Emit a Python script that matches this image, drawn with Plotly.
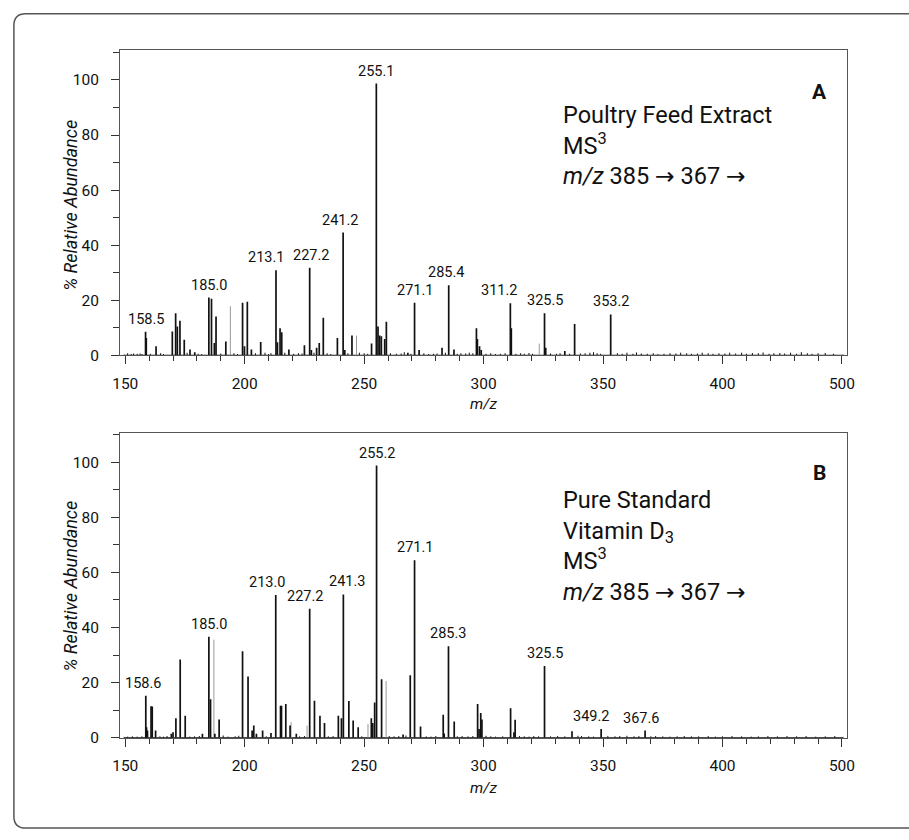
import plotly.graph_objects as go

# ---------------------------------------------------------------
# Panel A: poultry feed extract, MS3 of m/z 385 -> 367
# ---------------------------------------------------------------
a_label_mz = [158.5, 185.0, 213.1, 227.2, 241.2, 255.1, 271.1, 285.4, 311.2, 325.5, 353.2]
a_label_int = [8.6, 21.0, 30.9, 31.8, 44.6, 98.7, 19.1, 25.5, 18.9, 15.3, 14.9]
a_label_text = ["158.5", "185.0", "213.1", "227.2", "241.2", "255.1", "271.1", "285.4", "311.2", "325.5", "353.2"]

a_peak_mz = [158.8, 162.9, 169.7, 171.1, 171.8, 172.9, 174.7, 177.1, 179.1, 186.1, 187.3,
             188.0, 192.1, 199.1, 199.9, 201.1, 202.8, 206.7, 213.7, 214.8, 215.5, 218.5,
             225.0, 227.9, 230.1, 231.2, 232.9, 238.8, 241.9, 244.9, 253.1, 255.8, 256.5,
             257.2, 258.6, 259.3, 268.3, 273.0, 282.6, 287.6, 297.0, 297.4, 298.3, 299.0,
             311.6, 326.0, 334.0, 338.1]
a_peak_int = [6.3, 3.3, 8.7, 15.3, 10.5, 12.6, 5.7, 2.2, 1.2, 20.6, 4.5,
              14.1, 5.1, 19.1, 3.3, 19.5, 2.2, 4.9, 4.8, 9.9, 8.4, 2.2,
              3.7, 2.0, 2.8, 4.5, 13.7, 6.3, 2.0, 7.2, 4.3, 10.5, 7.2,
              7.0, 6.0, 12.2, 1.0, 2.0, 2.8, 2.2, 9.9, 6.0, 3.3, 2.0,
              9.9, 2.8, 1.6, 11.4]

a_faint_mz = [194.0, 246.8, 323.3]
a_faint_int = [17.9, 7.2, 4.3]

a_noise_mz = [149.5, 151.0, 152.5, 153.5, 155.0, 156.2, 157.0, 160.5, 164.8, 166.0, 175.9,
              180.5, 182.0, 190.0, 195.5, 197.0, 204.5, 208.5, 210.0, 211.0, 216.8, 220.5,
              222.5, 224.0, 229.0, 234.5, 236.0, 243.2, 248.0, 250.0, 251.5, 261.0, 263.5,
              265.5, 266.8, 269.6, 275.0, 277.0, 279.0, 280.5, 284.0, 289.0, 290.5, 292.5,
              294.0, 295.5, 301.0, 303.0, 305.0, 307.0, 309.0, 313.5, 315.5, 317.0, 319.0,
              320.5, 328.0, 330.5, 332.0, 336.0, 340.5, 342.5, 344.5, 346.0, 347.5, 349.0,
              356.0, 358.0, 360.0, 362.5, 364.0, 366.0, 368.5, 371.0, 373.0, 375.5, 378.0,
              380.5, 382.5, 385.0, 387.0, 389.5, 391.5, 394.0, 396.0, 398.5, 401.0, 403.0,
              405.5, 408.0, 410.0, 412.5, 415.0, 417.0, 419.5, 421.5, 424.0, 426.0, 428.5,
              431.0, 433.0, 435.5, 437.5, 440.0, 443.0, 446.5, 450.5]
a_noise_int = [0.3, 0.8, 0.5, 0.7, 0.6, 0.7, 0.5, 0.6, 0.8, 0.5, 1.0,
               0.6, 0.5, 0.7, 0.8, 0.5, 0.8, 1.0, 0.5, 0.8, 1.0, 0.6,
               0.8, 0.7, 1.0, 0.8, 0.5, 0.8, 1.0, 0.8, 0.6, 0.8, 0.6,
               0.7, 1.2, 0.6, 0.8, 0.5, 0.6, 0.7, 1.0, 0.6, 0.8, 0.7,
               1.0, 0.8, 0.6, 0.8, 0.5, 0.6, 0.8, 0.6, 0.8, 0.6, 0.9,
               0.6, 0.7, 0.6, 0.8, 0.6, 0.7, 0.8, 1.0, 1.2, 0.8, 0.6,
               0.8, 0.6, 1.0, 0.6, 1.1, 0.7, 0.6, 0.8, 0.5, 0.6, 0.8,
               0.7, 1.0, 0.8, 0.6, 0.7, 1.0, 0.8, 0.6, 0.8, 0.7, 1.0,
               0.7, 1.0, 0.6, 0.9, 0.8, 1.1, 0.6, 0.8, 0.9, 0.7, 1.0,
               0.6, 1.2, 0.8, 0.6, 0.8, 0.9, 0.6, 0.3]

# ---------------------------------------------------------------
# Panel B: pure vitamin D3 standard, MS3 of m/z 385 -> 367
# ---------------------------------------------------------------
b_label_mz = [158.6, 185.0, 213.0, 227.2, 241.3, 255.2, 271.1, 285.3, 325.5, 349.2, 367.6]
b_label_int = [15.2, 36.6, 51.8, 46.8, 52.0, 98.8, 64.4, 33.2, 26.0, 3.2, 2.6]
b_label_text = ["158.6", "185.0", "213.0", "227.2", "241.3", "255.2", "271.1", "285.3", "325.5", "349.2", "367.6"]

b_peak_mz = [158.9, 159.3, 160.8, 161.3, 162.7, 169.3, 170.0, 171.2, 173.0, 175.1, 182.3,
             185.7, 187.5, 189.3, 199.1, 201.4, 203.1, 203.8, 204.9, 207.5, 211.0, 215.0,
             215.4, 217.2, 219.0, 221.6, 229.2, 231.5, 233.4, 239.2, 240.5, 243.6, 245.4,
             247.5, 253.0, 253.6, 254.4, 257.3, 266.3, 269.3, 273.6, 283.1, 283.5, 287.7,
             297.5, 298.1, 298.8, 299.3, 311.3, 312.7, 313.2, 337.0]
b_peak_int = [3.8, 2.6, 11.4, 11.3, 2.6, 1.4, 2.0, 7.1, 28.4, 8.0, 1.4,
              14.0, 1.4, 6.6, 31.4, 22.2, 2.6, 4.4, 1.4, 2.6, 1.7, 11.6,
              11.6, 12.2, 4.4, 1.4, 13.4, 8.0, 5.3, 8.0, 7.1, 13.3, 6.2,
              3.8, 7.1, 5.3, 12.8, 21.2, 1.2, 22.7, 4.1, 8.3, 1.5, 5.9,
              12.2, 3.2, 9.0, 6.6, 10.7, 2.0, 6.5, 2.3]

b_faint_mz = [187.1, 219.4, 226.1, 251.6, 259.2]
b_faint_int = [35.6, 5.6, 4.4, 5.0, 20.6]

b_noise_mz = [149.5, 151.0, 153.0, 155.0, 157.0, 164.5, 166.0, 167.5, 177.0, 179.0, 181.0,
              191.0, 193.0, 196.0, 197.5, 209.0, 223.0, 225.0, 235.0, 237.0, 249.0, 260.5,
              262.5, 264.5, 267.5, 276.0, 278.0, 280.0, 289.0, 291.0, 293.5, 295.5, 301.0,
              303.0, 305.0, 308.0, 315.0, 317.0, 319.0, 321.0, 323.0, 328.0, 331.0, 334.0,
              339.5, 341.0, 344.0, 346.0, 352.0, 355.0, 357.0, 360.0, 363.0, 365.0, 370.0,
              372.0, 375.0, 378.0, 381.0, 384.0, 387.0, 390.0, 394.0, 397.0, 400.0, 404.0,
              408.0, 412.0, 415.0, 419.0, 423.0, 427.0, 431.0, 435.0, 439.0, 443.0, 447.0,
              450.5]
b_noise_int = [0.3, 0.4, 0.5, 0.4, 0.5, 0.5, 0.4, 0.6, 0.4, 0.5, 0.6,
               0.8, 0.4, 0.5, 0.7, 0.5, 0.5, 0.6, 0.5, 0.6, 0.5, 0.6,
               0.5, 0.6, 0.8, 0.5, 0.4, 0.6, 0.5, 0.6, 0.5, 0.6, 0.7,
               0.5, 0.4, 0.5, 0.6, 0.5, 0.4, 0.6, 0.5, 0.5, 0.6, 0.5,
               0.7, 0.6, 0.5, 0.4, 0.6, 0.5, 0.6, 0.7, 0.5, 0.6, 0.5,
               0.6, 0.5, 0.4, 0.5, 0.6, 0.5, 0.5, 0.6, 0.4, 0.5, 0.6,
               0.5, 0.4, 0.5, 0.6, 0.5, 0.6, 0.5, 0.6, 0.4, 0.5, 0.6,
               0.3]

# axis ticks
x_tick_vals = [150, 200, 250, 300, 350, 400, 450]
x_tick_text = ["150", "200", "250", "300", "350", "400", "500"]
y_tick_vals = [0, 20, 40, 60, 80, 100]
y_tick_text = ["0", "20", "40", "60", "80", "100"]

# panel captions (arrows set in DejaVu, whose arrow glyph is full width)
ARROW = "<span style='font-family:DejaVu Sans'>\u2192</span>"
a_caption = ["Poultry Feed Extract", "MS<sup>3</sup>",
             "<i>m/z</i> 385 " + ARROW + " 367 " + ARROW]
b_caption = ["Pure Standard", "Vitamin D<sub>3</sub>", "MS<sup>3</sup>",
             "<i>m/z</i> 385 " + ARROW + " 367 " + ARROW]

# ---------------------------------------------------------------
W, H = 909, 840
FONT = "Roboto, Liberation Sans, Arial, sans-serif"
INK = "#111111"


def fx(p):
    return p / W


def fy(p):
    return 1 - p / H


def sticks(mz, inten):
    xs, ys = [], []
    for m, v in zip(mz, inten):
        xs += [m, m, None]
        ys += [0, v, None]
    return xs, ys


# label offsets (pixels) for tags that sit off-centre of their peak
label_dx = {
    "x": {"213.1": -10, "227.2": 1, "241.2": -3, "311.2": -11, "285.4": -3},
    "x2": {"158.6": -3, "213.0": -9, "227.2": -5, "241.3": 4, "349.2": -10, "367.6": -4},
}

fig = go.Figure()

panels = [
    dict(xa="x", ya="y", lab=(a_label_mz, a_label_int, a_label_text),
         peaks=(a_peak_mz, a_peak_int), faint=(a_faint_mz, a_faint_int),
         noise=(a_noise_mz, a_noise_int)),
    dict(xa="x2", ya="y2", lab=(b_label_mz, b_label_int, b_label_text),
         peaks=(b_peak_mz, b_peak_int), faint=(b_faint_mz, b_faint_int),
         noise=(b_noise_mz, b_noise_int)),
]

annotations = []
for p in panels:
    nm, ni = p["noise"]
    # baseline of the spectrum
    fig.add_trace(go.Scatter(x=[min(nm), max(nm)], y=[0, 0], mode="lines",
                             line=dict(color=INK, width=1.6), xaxis=p["xa"], yaxis=p["ya"],
                             hoverinfo="skip", showlegend=False))
    xs, ys = sticks(nm, ni)
    fig.add_trace(go.Scatter(x=xs, y=ys, mode="lines", line=dict(color=INK, width=1),
                             xaxis=p["xa"], yaxis=p["ya"], hoverinfo="skip", showlegend=False))
    fm, fi = p["faint"]
    xs, ys = sticks(fm, fi)
    fig.add_trace(go.Scatter(x=xs, y=ys, mode="lines", line=dict(color="#9a9a9a", width=1),
                             xaxis=p["xa"], yaxis=p["ya"], showlegend=False))
    pm, pi = p["peaks"]
    lm, li, lt = p["lab"]
    xs, ys = sticks(list(pm) + list(lm), list(pi) + list(li))
    fig.add_trace(go.Scatter(x=xs, y=ys, mode="lines", line=dict(color=INK, width=1.7),
                             xaxis=p["xa"], yaxis=p["ya"], showlegend=False))
    for m, v, t in zip(lm, li, lt):
        annotations.append(dict(x=m, y=v, xref=p["xa"], yref=p["ya"], text=t, showarrow=False,
                                xanchor="center", yanchor="bottom", yshift=2,
                                xshift=label_dx[p["xa"]].get(t, 0),
                                font=dict(family=FONT, size=14.5, color=INK)))

axis_common = dict(showgrid=False, zeroline=False, showline=True, linecolor="#555555",
                   linewidth=1, mirror=True, ticks="outside", ticklen=8, tickwidth=1,
                   tickcolor="#333333", tickfont=dict(family=FONT, size=15.5, color=INK))

x_dom = [fx(114), fx(854)]
x_range = [147.8, 452.1]
y_range = [0, 110.7]
x_minor = dict(ticks="outside", ticklen=5, tick0=150, dtick=10, tickcolor="#333333")
y_minor = dict(ticks="outside", ticklen=6, tick0=0, dtick=10, tickcolor="#333333")

fig.update_layout(
    width=W, height=H, margin=dict(l=0, r=0, t=0, b=0),
    paper_bgcolor="white", plot_bgcolor="white", showlegend=False,
    xaxis=dict(axis_common, domain=x_dom, range=x_range, anchor="y", ticklabelstandoff=6,
               tickmode="array", tickvals=x_tick_vals, ticktext=x_tick_text, minor=x_minor),
    yaxis=dict(axis_common, domain=[fy(359.3), fy(51)], range=y_range, anchor="x",
               ticklabelstandoff=9,
               tickmode="array", tickvals=y_tick_vals, ticktext=y_tick_text, minor=y_minor),
    xaxis2=dict(axis_common, domain=x_dom, range=x_range, anchor="y2", ticklabelstandoff=6,
                tickmode="array", tickvals=x_tick_vals, ticktext=x_tick_text, minor=x_minor),
    yaxis2=dict(axis_common, domain=[fy(745.7), fy(437.4)], range=y_range, anchor="x2",
                ticklabelstandoff=9,
                tickmode="array", tickvals=y_tick_vals, ticktext=y_tick_text, minor=y_minor),
)

# axis titles
for yc, xc in [(408, 484), (797, 484)]:
    annotations.append(dict(x=fx(xc), y=fy(yc), xref="paper", yref="paper", text="<i>m/z</i>",
                            showarrow=False, xanchor="center", yanchor="middle",
                            font=dict(family=FONT, size=15.5, color=INK)))
for yc in [207, 592]:
    annotations.append(dict(x=fx(64), y=fy(yc), xref="paper", yref="paper",
                            text="<i>% Relative Abundance</i>", textangle=-90, showarrow=False,
                            xanchor="center", yanchor="middle",
                            font=dict(family=FONT, size=18, color=INK)))

# panel letters and captions
for letter, top in [("A", 79), ("B", 464)]:
    annotations.append(dict(x=fx(826), y=fy(top), xref="paper", yref="paper",
                            text="<b>" + letter + "</b>", showarrow=False,
                            xanchor="center", yanchor="top",
                            font=dict(family=FONT, size=21, color=INK)))
for lines, top in [(a_caption, 100), (b_caption, 489)]:
    annotations.append(dict(x=fx(563), y=fy(top), xref="paper", yref="paper",
                            text="<br>".join(lines), align="left", showarrow=False,
                            xanchor="left", yanchor="top",
                            font=dict(family=FONT, size=23.5, color=INK)))

fig.update_layout(annotations=annotations)

# rounded outer frame running off the right side
r = 12
path = (f"M {fx(930)},{fy(14)} L {fx(6 + r)},{fy(14)} Q {fx(6)},{fy(14)} {fx(6)},{fy(14 + r)} "
        f"L {fx(6)},{fy(837 - r)} Q {fx(6)},{fy(837)} {fx(6 + r)},{fy(837)} L {fx(930)},{fy(837)}")
fig.add_shape(type="path", path=path, xref="paper", yref="paper",
              line=dict(color="#555555", width=1.5))

fig.write_html("out.html")
